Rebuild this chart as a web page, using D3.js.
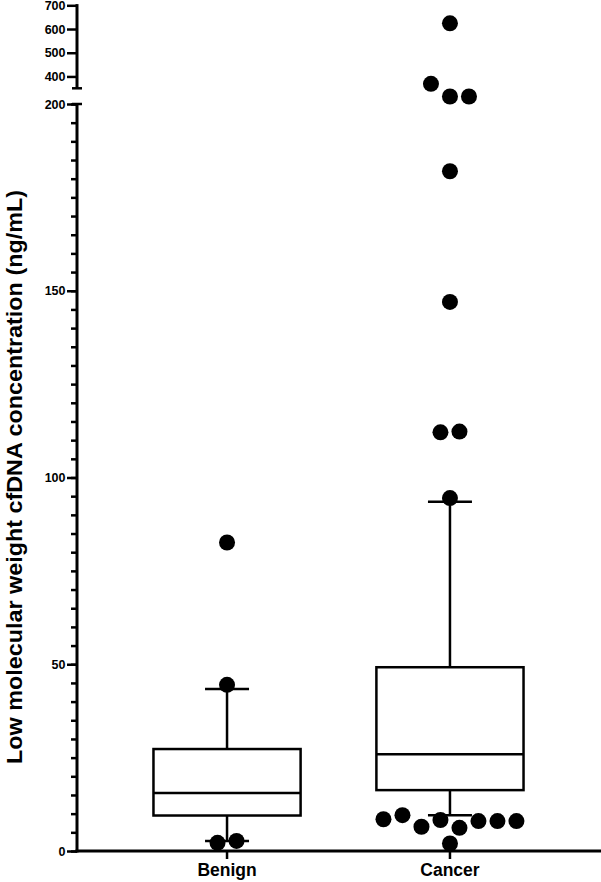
<!DOCTYPE html>
<html><head><meta charset="utf-8">
<script src="https://cdn.jsdelivr.net/npm/d3@7"></script>
<style>
body{margin:0;background:#fff}
svg text{font-family:"Liberation Sans",Arial,Helvetica,sans-serif;font-weight:bold;fill:#000}
</style>
</head><body>
<svg id="chart" width="601" height="882"></svg>
<script>
// ---- data ----
const categories = ["Benign", "Cancer"];
const boxMin    = [2.7, 9.6];
const boxQ1     = [9.5, 16.3];
const boxMedian = [15.5, 25.9];
const boxQ3     = [27.3, 49.2];
const boxMax    = [43.4, 93.5];
const benignPoints = [82.6, 44.5, 2.2, 2.7];
const cancerPoints = [624, 369, 202, 202, 182, 147, 112.1, 112.3, 94.5,
                      8.5, 9.6, 6.5, 8.3, 6.2, 8.0, 8.0, 8.0, 2.0];
const lowerMajorTicks = [0, 50, 100, 150, 200];
const lowerMinorStep = 5;
const upperTicks = [400, 500, 600, 700];
const yTitle = "Low molecular weight cfDNA concentration (ng/mL)";

// ---- layout ----
const svg = d3.select("#chart");
const axisX = 77, baseY = 851;
const x = d3.scalePoint().domain(categories).range([axisX, 600]).padding(0.673);
const yLow = d3.scaleLinear().domain([0, 200]).range([baseY, 104]);
const yHigh = d3.scaleLinear().domain([350, 700]).range([88.3, 5.3]);
const y = v => v > 300 ? yHigh(v) : yLow(v);
const step = x.step();
const boxW = step * 0.66;
const capW = 44;
const r = 8;
const dotGap = 19;

// ---- y axes ----
function styleAxis(g){
  g.select(".domain").attr("stroke-width", 3).attr("stroke", "#000");
  g.selectAll(".tick line").attr("stroke-width", 2.5).attr("stroke", "#000");
  g.selectAll(".tick text").attr("font-size", 12.5);
}
const gMinor = svg.append("g").attr("transform", `translate(${axisX},0)`)
  .call(d3.axisLeft(yLow).tickValues(d3.range(0, 201, lowerMinorStep)).tickSize(6).tickSizeOuter(0).tickFormat(""));
gMinor.select(".domain").remove();
gMinor.selectAll(".tick line").attr("stroke-width", 2.5);

const gLow = svg.append("g").attr("transform", `translate(${axisX},0)`)
  .call(d3.axisLeft(yLow).tickValues(lowerMajorTicks).tickSize(10).tickSizeOuter(0).tickPadding(1.5));
styleAxis(gLow);
gLow.select(".domain").attr("d", `M0,${baseY + 1.5}V${yLow(200)}`);

const gHigh = svg.append("g").attr("transform", `translate(${axisX},0)`)
  .call(d3.axisLeft(yHigh).tickValues(upperTicks).tickSize(10).tickSizeOuter(0).tickPadding(1.5));
styleAxis(gHigh);
gHigh.select(".domain").attr("d", `M0,${yHigh(350)}V${yHigh(700) - 1.2}`);

// break caps
[yLow(200), yHigh(350)].forEach(cy => {
  svg.append("line").attr("x1", axisX - 5).attr("x2", axisX + 5)
    .attr("y1", cy).attr("y2", cy).attr("stroke", "#000").attr("stroke-width", 2.5);
});

// ---- x axis ----
svg.append("line").attr("x1", axisX - 1.5).attr("x2", 601).attr("y1", baseY).attr("y2", baseY)
  .attr("stroke", "#000").attr("stroke-width", 3);
const gx = svg.append("g");
gx.selectAll("line.xt").data(categories).join("line")
  .attr("x1", d => x(d)).attr("x2", d => x(d)).attr("y1", baseY).attr("y2", baseY + 8)
  .attr("stroke", "#000").attr("stroke-width", 2.5);
gx.selectAll("text").data(categories).join("text")
  .attr("x", d => x(d)).attr("y", baseY + 25).attr("text-anchor", "middle")
  .attr("font-size", 17.5).text(d => d);

// y title
svg.append("text").attr("transform", `translate(22,477) rotate(-90)`)
  .attr("text-anchor", "middle").attr("font-size", 21.5)
  .attr("textLength", 574).attr("lengthAdjust", "spacingAndGlyphs").text(yTitle);

// ---- boxes ----
const stats = categories.map((c, i) => ({c, min: boxMin[i], q1: boxQ1[i], med: boxMedian[i], q3: boxQ3[i], max: boxMax[i]}));
const gb = svg.append("g").attr("stroke", "#000").attr("stroke-width", 2.5).attr("fill", "none");
stats.forEach(s => {
  const cx = x(s.c);
  gb.append("line").attr("x1", cx).attr("x2", cx).attr("y1", y(s.q3)).attr("y2", y(s.max));
  gb.append("line").attr("x1", cx).attr("x2", cx).attr("y1", y(s.q1)).attr("y2", y(s.min));
  gb.append("line").attr("x1", cx - capW/2).attr("x2", cx + capW/2).attr("y1", y(s.max)).attr("y2", y(s.max));
  gb.append("line").attr("x1", cx - capW/2).attr("x2", cx + capW/2).attr("y1", y(s.min)).attr("y2", y(s.min));
  gb.append("rect").attr("x", cx - boxW/2).attr("width", boxW)
    .attr("y", y(s.q3)).attr("height", y(s.q1) - y(s.q3)).attr("fill", "#fff");
  gb.append("line").attr("x1", cx - boxW/2).attr("x2", cx + boxW/2).attr("y1", y(s.med)).attr("y2", y(s.med));
});

// ---- points (row-grouped scatter) ----
function layout(cat, vals){
  const idx = vals.map((v, i) => i).sort((a, b) => vals[b] - vals[a]);
  const rows = [];
  idx.forEach(i => {
    const py = y(vals[i]);
    const row = rows[rows.length - 1];
    if (row && Math.abs(py - y(vals[row[0]])) <= 15) row.push(i); else rows.push([i]);
  });
  const out = [];
  rows.forEach(row => {
    row.sort((a, b) => a - b);
    row.forEach((i, k) => out.push({cx: x(cat) + (k - (row.length - 1) / 2) * dotGap, cy: y(vals[i])}));
  });
  return out;
}
const pts = layout("Benign", benignPoints).concat(layout("Cancer", cancerPoints));
svg.append("g").selectAll("circle").data(pts).join("circle")
  .attr("cx", d => d.cx).attr("cy", d => d.cy).attr("r", r).attr("fill", "#000");
</script>
</body></html>
